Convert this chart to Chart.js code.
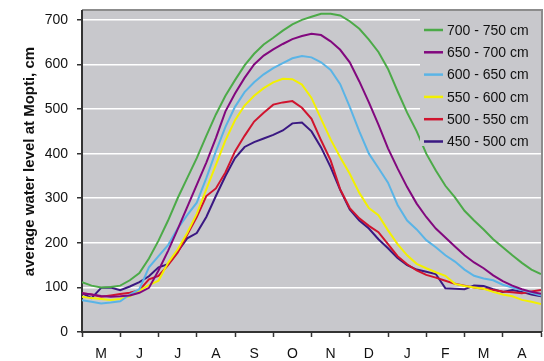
<!DOCTYPE html>
<html>
<head>
<meta charset="utf-8">
<script src="https://cdn.jsdelivr.net/npm/chart.js@4.4.1/dist/chart.umd.min.js"></script>
<style>
  html, body { margin: 0; padding: 0; background: #fff; }
  #wrap { width: 544px; height: 361px; position: relative; }
</style>
</head>
<body>
<div id="wrap"><canvas id="chart"></canvas></div>
<script>
// Month labels along the x axis (May .. April)
const months = ['M', 'J', 'J', 'A', 'S', 'O', 'N', 'D', 'J', 'F', 'M', 'A'];
const yTicks = [0, 100, 200, 300, 400, 500, 600, 700];

// x position of each reading, in months from the start of May (weekly-ish)
const monthPos = [
  0, 0.25, 0.5, 0.75, 1, 1.25, 1.5, 1.75, 2, 2.25, 2.5, 2.75, 3, 3.25, 3.5, 3.75,
  4, 4.25, 4.5, 4.75, 5, 5.25, 5.5, 5.75, 6, 6.25, 6.5, 6.75, 7, 7.25, 7.5, 7.75,
  8, 8.25, 8.5, 8.75, 9, 9.25, 9.5, 9.75, 10, 10.25, 10.5, 10.75, 11, 11.25, 11.5, 11.75, 12
];

const seriesLabels = ['700 - 750 cm', '650 - 700 cm', '600 - 650 cm', '550 - 600 cm', '500 - 550 cm', '450 - 500 cm'];
const seriesColors = ['#4caa48', '#82087e', '#5ab4e6', '#f2f000', '#d0142e', '#3a1882'];

// average water level (cm) for each class of peak flood
const lvl700 = [112,104,100,101,104,116,132,165,205,250,300,345,390,440,488,530,565,598,624,645,660,676,690,700,707,714,714,710,697,680,656,628,590,540,492,450,400,362,328,302,272,250,230,208,190,172,155,140,130];
const lvl650 = [87,84,81,79,80,82,88,99,138,182,230,280,330,380,435,495,535,570,600,620,634,646,657,664,669,666,652,633,605,562,515,465,412,367,325,288,258,232,212,192,172,156,143,127,114,104,96,90,86];
const lvl600 = [71,68,64,66,69,84,96,145,170,195,232,262,290,345,405,460,505,538,560,578,592,603,614,619,616,605,588,556,505,450,400,368,335,285,250,230,206,190,172,158,140,126,120,116,106,100,94,88,82];
const lvl550 = [79,76,74,72,74,80,93,105,115,155,185,222,265,320,375,430,475,508,530,547,560,568,567,555,525,478,432,392,355,312,278,262,228,197,172,153,143,134,126,108,103,100,97,90,84,80,72,68,63];
const lvl500 = [87,84,79,82,85,88,94,118,126,150,178,218,258,305,322,358,405,440,472,492,510,515,518,503,478,430,385,320,278,255,238,224,197,170,152,138,128,122,115,108,104,100,97,94,91,89,87,91,94];
const lvl450 = [87,76,99,100,94,102,112,125,145,152,180,210,222,258,305,350,390,415,426,434,442,452,468,470,450,414,370,319,275,250,232,208,188,166,150,140,135,130,98,97,96,104,103,96,90,94,90,84,80];

const seriesValues = [lvl700, lvl650, lvl600, lvl550, lvl500, lvl450];

const FONT = "'Liberation Sans', Arial, sans-serif";
const PLOT_BG = '#c8c8cc';
const AXIS = '#333333';

// Grey plot area with a thin darker frame on top and right
const plotBackground = {
    id: 'plotBackground',
    beforeDraw(chart) {
        const { ctx, chartArea: a } = chart;
        ctx.save();
        ctx.fillStyle = PLOT_BG;
        ctx.fillRect(a.left, a.top, a.right - a.left, a.bottom - a.top);
        ctx.strokeStyle = '#8c8c8c';
        ctx.lineWidth = 2;
        ctx.beginPath();
        ctx.moveTo(a.left, a.top - 1);
        ctx.lineTo(a.right + 1, a.top - 1);
        ctx.lineTo(a.right + 1, a.bottom);
        ctx.stroke();
        ctx.restore();
    }
};

// Rotated y axis title, sitting a little above the middle like the original
const yTitle = {
    id: 'yTitle',
    afterDraw(chart) {
        const { ctx, chartArea: a } = chart;
        ctx.save();
        ctx.translate(30, (a.top + a.bottom) / 2 - 10);
        ctx.rotate(-Math.PI / 2);
        ctx.font = 'bold 15px ' + FONT;
        ctx.fillStyle = '#111';
        ctx.textAlign = 'center';
        ctx.textBaseline = 'middle';
        ctx.fillText('average water level at Mopti, cm', 0, 0);
        ctx.restore();
    }
};

// Legend box inside the top right corner of the plot
const insideLegend = {
    id: 'insideLegend',
    afterDatasetsDraw(chart) {
        const { ctx, chartArea: a } = chart;
        const left = a.right - 121;
        ctx.save();
        ctx.fillStyle = PLOT_BG;
        ctx.fillRect(left, a.top + 1, a.right - left, 134);
        ctx.font = '14px ' + FONT;
        ctx.textBaseline = 'middle';
        ctx.textAlign = 'left';
        chart.data.datasets.forEach((ds, i) => {
            const y = a.top + 19 + i * 22.3;
            ctx.strokeStyle = ds.borderColor;
            ctx.lineWidth = 2.5;
            ctx.beginPath();
            ctx.moveTo(left + 4, y);
            ctx.lineTo(left + 23, y);
            ctx.stroke();
            ctx.fillStyle = '#111';
            ctx.fillText(ds.label, left + 27, y + 1);
        });
        ctx.restore();
    }
};

const datasets = seriesLabels.map((label, i) => ({
    label: label,
    data: seriesValues[i].map((v, j) => ({ x: monthPos[j], y: v })),
    borderColor: seriesColors[i],
    backgroundColor: seriesColors[i],
    borderWidth: 2,
    pointRadius: 0,
    tension: 0,
    fill: false
}));

new Chart(document.getElementById('chart'), {
    type: 'line',
    data: { datasets: datasets },
    options: {
        responsive: true,
        maintainAspectRatio: false,
        animation: false,
        layout: { padding: { top: 11, right: 3, left: 0, bottom: 0 } },
        plugins: {
            legend: { display: false },
            tooltip: { enabled: false }
        },
        scales: {
            x: {
                type: 'linear',
                min: 0,
                max: 12,
                afterBuildTicks: scale => {
                    const t = [];
                    for (let k = 0; k <= 24; k++) t.push({ value: k / 2 });
                    scale.ticks = t;
                },
                afterFit: scale => {
                    scale.height = 29;
                    scale.paddingLeft = 0;
                    scale.paddingRight = 0;
                },
                grid: {
                    drawOnChartArea: false,
                    tickLength: 5,
                    tickWidth: 1.5,
                    tickColor: c => (c.tick && c.tick.value % 1 === 0) ? AXIS : 'rgba(0,0,0,0)'
                },
                border: { color: AXIS, width: 2 },
                ticks: {
                    autoSkip: false,
                    maxRotation: 0,
                    minRotation: 0,
                    padding: 9,
                    color: '#111',
                    font: { family: FONT, size: 14 },
                    callback: v => (v % 1 === 0.5) ? months[Math.floor(v)] : ''
                }
            },
            y: {
                min: 0,
                max: 720,
                afterBuildTicks: scale => {
                    scale.ticks = yTicks.map(v => ({ value: v }));
                },
                afterFit: scale => {
                    scale.width = 82;
                    scale.paddingTop = 0;
                    scale.paddingBottom = 0;
                },
                grid: {
                    color: c => (c.tick && c.tick.value === 0) ? 'rgba(0,0,0,0)' : '#ffffff',
                    lineWidth: 1.5,
                    tickLength: 5,
                    tickWidth: 1.5,
                    tickColor: AXIS
                },
                border: { color: AXIS, width: 2 },
                ticks: {
                    padding: 9,
                    color: '#111',
                    font: { family: FONT, size: 14 }
                }
            }
        }
    },
    plugins: [plotBackground, insideLegend, yTitle]
});
</script>
</body>
</html>
